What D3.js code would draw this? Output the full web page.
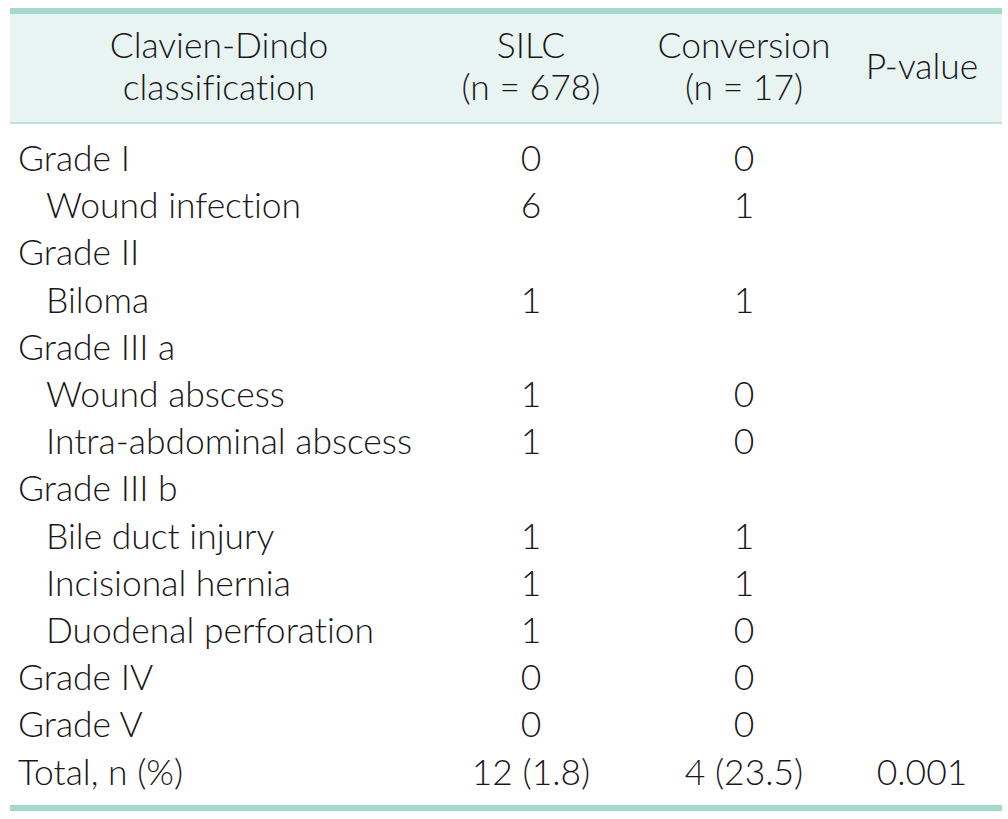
<!DOCTYPE html>
<html><head><meta charset="utf-8">
<script src="https://cdn.jsdelivr.net/npm/d3@7"></script>
<style>html,body{margin:0;padding:0;background:#fff;}svg{display:block;}text{font-variant-ligatures:none;font-feature-settings:"liga" 0;}</style>
</head><body>
<script>
const headerLines = [
  ["Clavien-Dindo", "classification"],
  ["SILC", "(n = 678)"],
  ["Conversion", "(n = 17)"],
  ["P-value"]
];
const rowLabels = ["Grade I","Wound infection","Grade II","Biloma","Grade III a","Wound abscess","Intra-abdominal abscess","Grade III b","Bile duct injury","Incisional hernia","Duodenal perforation","Grade IV","Grade V","Total, n (%)"];
const rowIndent = [0,1,0,1,0,1,1,0,1,1,1,0,0,0];
const silc = ["0","6","","1","","1","1","","1","1","1","0","0","12 (1.8)"];
const conversion = ["0","1","","1","","0","0","","1","1","0","0","0","4 (23.5)"];
const pvalue = ["","","","","","","","","","","","","","0.001"];

const W = 1008, H = 819;
const svg = d3.select("body").append("svg").attr("width", W).attr("height", H);
const font = "Lato, 'Open Sans', sans-serif";
const weight = 300;
const textColor = "#1a1718";
const left = 10, right = 1002;

// header background
svg.append("rect").attr("x", left).attr("y", 12).attr("width", right-left).attr("height", 111).attr("fill", "#e7f4f2");
svg.append("rect").attr("x", left).attr("y", 8).attr("width", right-left).attr("height", 6).attr("fill", "#a5d9cc");
svg.append("rect").attr("x", left).attr("y", 122).attr("width", right-left).attr("height", 2).attr("fill", "#bfe1d9");
svg.append("rect").attr("x", left).attr("y", 805).attr("width", right-left).attr("height", 6).attr("fill", "#a5d9cc");

// fit font size
const probe = svg.append("text").attr("font-family", font).attr("font-weight", weight).attr("font-size", 30).text("Intra-abdominal abscess");
const w30 = probe.node().getComputedTextLength();
probe.remove();
const fs = 30 * 366 / w30;

const colX = d3.scaleOrdinal().domain([0,1,2,3]).range([219, 531, 744, 922]);
const y = d3.scalePoint().domain(d3.range(rowLabels.length)).range([171, 784.5]);

// header
const hdr = svg.append("g").attr("font-family", font).attr("font-weight", weight).attr("font-size", fs).attr("fill", textColor).attr("text-anchor", "middle");
headerLines.forEach((lines, c) => {
  const base = lines.length === 2 ? [58, 100] : [79];
  lines.forEach((t, i) => hdr.append("text").attr("x", colX(c)).attr("y", base[i]).text(t));
});

const body = svg.append("g").attr("font-family", font).attr("font-weight", weight).attr("font-size", fs).attr("fill", textColor);
body.selectAll("text.lab").data(rowLabels).join("text").attr("class","lab")
  .attr("x", (d,i) => rowIndent[i] ? 46 : 18).attr("y", (d,i) => y(i)).text(d => d);
[[silc,1],[conversion,2],[pvalue,3]].forEach(([arr,c]) => {
  body.selectAll("text.c"+c).data(arr).join("text").attr("class","c"+c)
    .attr("text-anchor","middle").attr("x", colX(c)).attr("y", (d,i) => y(i)).text(d => d);
});
</script>
</body></html>
